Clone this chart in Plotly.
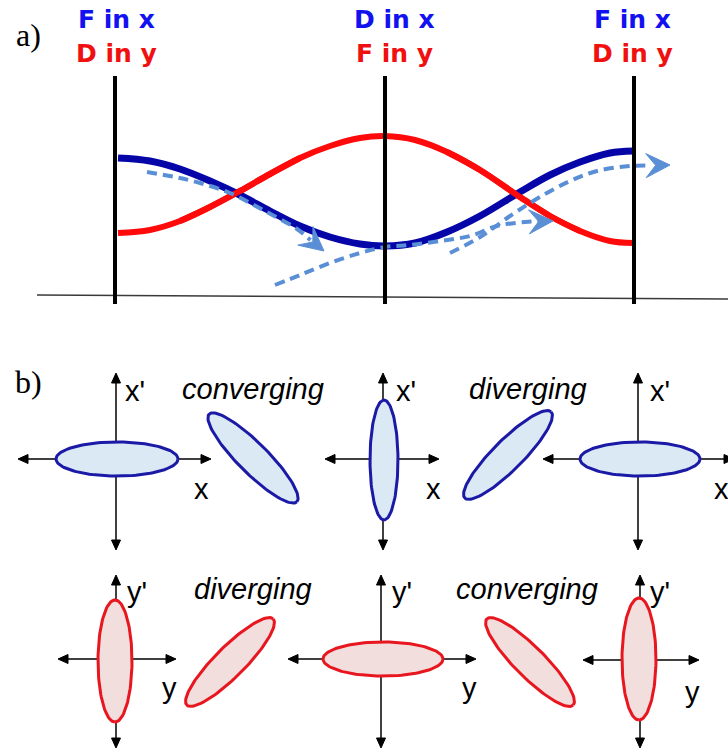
import numpy as np
import plotly.graph_objects as go

W, H = 728, 751

# ---------------- panel a data ----------------
lens_x = [115, 385, 634]
lens_top, lens_bottom = 76, 304
lens_label_x = [116, 394, 632]
label_top = ["F in x", "D in x", "F in x"]
label_bottom = ["D in y", "F in y", "D in y"]
baseline_x = [37, 728]
baseline_y = [295, 299]

curve_x = [118, 150, 180, 210, 240, 270, 300, 330, 360, 385, 415, 447, 480, 520, 550, 580, 610, 633]
blue_y = [158, 161, 169, 181, 195, 211, 226, 237, 244, 246, 243, 232, 216, 192, 175, 162, 153, 151]
red_y = [233, 230, 221, 207, 191, 174, 158, 146, 138, 136, 140, 152, 170, 197, 216, 231, 241, 243]

dashA_x = [147, 175, 200, 230, 263, 297, 324]
dashA_y = [172, 177, 183, 193, 210, 229, 251]
dashB_x = [275, 300, 330, 360, 385, 410, 440, 470, 497, 525, 553]
dashB_y = [285, 275, 263, 253, 247, 245, 241, 236, 226, 222, 221]
dashC_x = [450, 480, 513, 540, 570, 597, 630, 670]
dashC_y = [253, 237, 214, 197, 181, 171, 166, 165]

# ---------------- panel b data ----------------
row1_ell_cx = [117, 253, 384, 508, 640]
row1_ell_cy = [459, 458, 460, 455, 459]
row1_ell_a = [61, 62, 60, 61, 60]
row1_ell_b = [17, 15, 14, 15, 17]
row1_ell_ang = [0, 45, 90, -45, 0]

row2_ell_cx = [115, 230, 383, 530, 639]
row2_ell_cy = [661, 662, 659, 662, 659]
row2_ell_a = [61, 61, 60, 61, 61]
row2_ell_b = [17, 15, 17, 15, 17]
row2_ell_ang = [90, -45, 0, 45, 90]

row1_vx = [116, 383, 638]
row1_vy = [373, 550]
row1_hy = [459, 459, 459]
row1_hx = [[18, 211], [325, 439], [543, 734]]
row2_vx = [116, 381, 640]
row2_vy = [575, 748]
row2_hy = [659, 659, 660]
row2_hx = [[58, 176], [288, 476], [583, 699]]

row1_words = ["converging", "diverging"]
row1_word_x = [253, 528]
row2_words = ["diverging", "converging"]
row2_word_x = [253, 527]
row1_word_y, row2_word_y = 389, 589

row1_primelab_x = [123, 394, 648]
row1_lab_x = [201, 433, 721]
row2_primelab_x = [125, 390, 648]
row2_lab_x = [169, 469, 692]
row2_lab_y = [688, 688, 692]

# colours
C_BLUE = "#0606a8"
C_RED = "#ff0a0a"
C_DASH = "#5a8fd6"
C_TXT_BLUE = "#1212f0"
C_TXT_RED = "#f01010"
E_BLUE_LINE, E_BLUE_FILL = "#1a1aa6", "#dbe9f5"
E_RED_LINE, E_RED_FILL = "#e8161e", "#f3dede"

fig = go.Figure()


def add_line(xs, ys, color, width, dash=None, shape="linear"):
    fig.add_trace(go.Scatter(x=xs, y=ys, mode="lines", hoverinfo="skip",
                             line=dict(color=color, width=width, dash=dash, shape=shape)))


def head_poly(tip, prev, L, Wd, notch):
    t = np.array(tip, float)
    p = np.array(prev, float)
    d = t - p
    d /= np.linalg.norm(d)
    n = np.array([-d[1], d[0]])
    base = t - L * d
    w1 = base + Wd * n
    w2 = base - Wd * n
    nt = t - notch * L * d
    pts = [t, w1, nt, w2, t]
    return [q[0] for q in pts], [q[1] for q in pts]


def add_polys(polys, color):
    xs, ys = [], []
    for px, py in polys:
        xs += px + [None]
        ys += py + [None]
    fig.add_trace(go.Scatter(x=xs, y=ys, mode="lines", fill="toself", fillcolor=color,
                             line=dict(color=color, width=1), hoverinfo="skip"))


# ---- panel a ----
add_line(baseline_x, baseline_y, "#3a3a3a", 1.5)
add_line(curve_x, red_y, C_RED, 6, shape="spline")
add_line(curve_x, blue_y, C_BLUE, 7, shape="spline")
# red on top of blue at crossings
add_line(curve_x[2:7], red_y[2:7], C_RED, 6, shape="spline")
add_line(curve_x[11:16], red_y[11:16], C_RED, 6, shape="spline")

heads = []
for xs, ys in [(dashA_x, dashA_y), (dashB_x, dashB_y), (dashC_x, dashC_y)]:
    add_line(xs[:-1] + [xs[-1] - 0.5 * (xs[-1] - xs[-2])], ys[:-1] + [ys[-1] - 0.5 * (ys[-1] - ys[-2])],
             C_DASH, 4, dash="10px,6px", shape="spline")
    heads.append(head_poly((xs[-1], ys[-1]), (xs[-2], ys[-2]), 24, 12, 0.6))
add_polys(heads, C_DASH)

for lx in lens_x:
    add_line([lx, lx], [lens_top, lens_bottom], "black", 4)

# ---- panel b ----
axis_heads = []


def add_axes(vx, vy, hy, hx):
    for x0 in vx:
        add_line([x0, x0], [vy[0] + 6, vy[1] - 6], "black", 1.5)
        axis_heads.append(head_poly((x0, vy[0]), (x0, vy[0] + 5), 10, 4.5, 1.0))
        axis_heads.append(head_poly((x0, vy[1]), (x0, vy[1] - 5), 10, 4.5, 1.0))
    for y0, (x1, x2) in zip(hy, hx):
        add_line([x1 + 6, x2 - 6], [y0, y0], "black", 1.5)
        axis_heads.append(head_poly((x1, y0), (x1 + 5, y0), 10, 4.5, 1.0))
        axis_heads.append(head_poly((x2, y0), (x2 - 5, y0), 10, 4.5, 1.0))


add_axes(row1_vx, row1_vy, row1_hy, row1_hx)
add_axes(row2_vx, row2_vy, row2_hy, row2_hx)
add_polys(axis_heads, "black")

phi = np.linspace(0, 2 * np.pi, 121)


def add_ellipses(cx, cy, a, b, ang, lc, fc):
    for x0, y0, A, B, g in zip(cx, cy, a, b, ang):
        r = np.deg2rad(g)
        ex = x0 + A * np.cos(phi) * np.cos(r) - B * np.sin(phi) * np.sin(r)
        ey = y0 + A * np.cos(phi) * np.sin(r) + B * np.sin(phi) * np.cos(r)
        fig.add_trace(go.Scatter(x=ex, y=ey, mode="lines", fill="toself", fillcolor=fc,
                                 line=dict(color=lc, width=3), hoverinfo="skip"))


add_ellipses(row1_ell_cx, row1_ell_cy, row1_ell_a, row1_ell_b, row1_ell_ang, E_BLUE_LINE, E_BLUE_FILL)
add_ellipses(row2_ell_cx, row2_ell_cy, row2_ell_a, row2_ell_b, row2_ell_ang, E_RED_LINE, E_RED_FILL)

# ---- text ----
ann = []


def txt(x, y, s, size, color="black", family="Liberation Sans", xa="center", bold=False, italic=False):
    ann.append(dict(x=x, y=y, xref="x", yref="y", text=s, showarrow=False, xanchor=xa, yanchor="middle",
                    font=dict(family=family, size=size, color=color,
                              weight="bold" if bold else "normal",
                              style="italic" if italic else "normal")))


txt(28, 35, "a)", 32, family="Liberation Serif")
txt(28, 382, "b)", 32, family="Liberation Serif")
for cx, t1, t2 in zip(lens_label_x, label_top, label_bottom):
    txt(cx, 19, t1, 25, C_TXT_BLUE, family="DejaVu Sans", bold=True)
    txt(cx, 53, t2, 25, C_TXT_RED, family="DejaVu Sans", bold=True)

for w, x in zip(row1_words, row1_word_x):
    txt(x, row1_word_y, w, 29, italic=True)
for w, x in zip(row2_words, row2_word_x):
    txt(x, row2_word_y, w, 29, italic=True)
for x in row1_primelab_x:
    txt(x, 391, "x'", 29, xa="left")
for x in row1_lab_x:
    txt(x, 489, "x", 29)
for x in row2_primelab_x:
    txt(x, 592, "y'", 29, xa="left")
for x, y in zip(row2_lab_x, row2_lab_y):
    txt(x, y, "y", 29)

fig.update_layout(
    width=W, height=H, autosize=False,
    margin=dict(l=0, r=0, t=0, b=0, pad=0),
    paper_bgcolor="white", plot_bgcolor="white",
    showlegend=False, hovermode=False,
    xaxis=dict(range=[0, W], visible=False, fixedrange=True),
    yaxis=dict(range=[H, 0], visible=False, fixedrange=True),
    annotations=ann,
)
fig.write_html("out.html", config={"displayModeBar": False})
